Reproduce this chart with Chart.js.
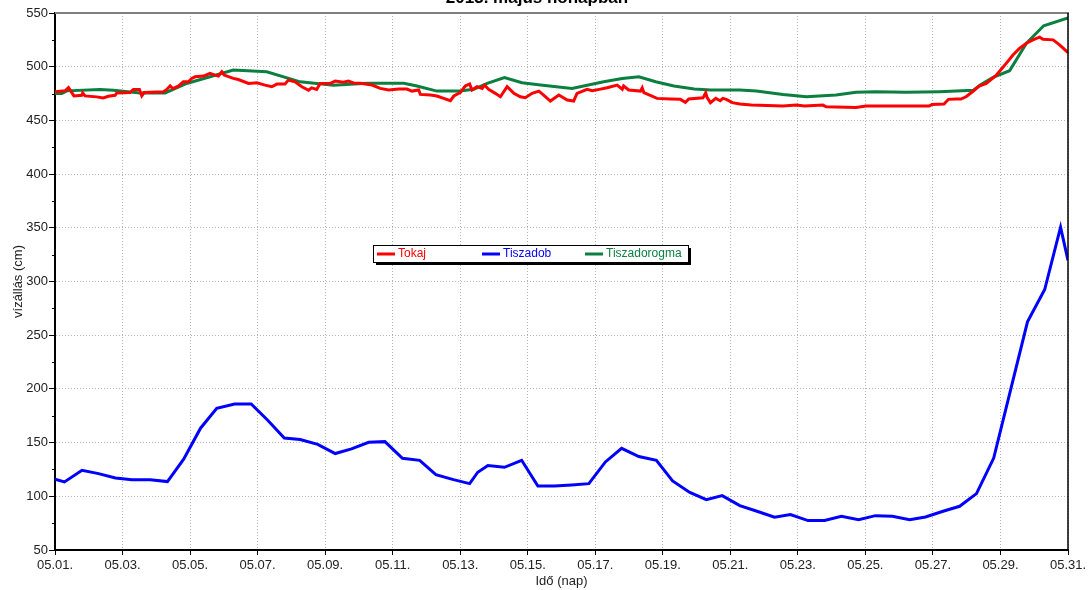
<!DOCTYPE html>
<html>
<head>
<meta charset="utf-8">
<script src="https://cdn.jsdelivr.net/npm/chart.js@4"></script>
<style>
    html, body { margin: 0; padding: 0; background: #fff; overflow: hidden; }
</style>
</head>
<body>
<canvas id="bieuDoVizallas" width="1090" height="590"></canvas>
<script>
// tengely feliratok
const tieuDe = "2013. május hónapban";
const nhanTrucX = "Idő (nap)";
const nhanTrucY = "vízállás (cm)";
const tenTram = ["Tokaj", "Tiszadob", "Tiszadorogma"];
const mauTram = ["#ff0000", "#0000ff", "#0a7f3f"];

// Tokaj (nap, cm)
const ngayTokaj = [1.0, 1.3, 1.4, 1.44, 1.56, 1.79, 1.82, 1.89, 2.23, 2.43, 2.58, 2.78, 2.83, 3.22, 3.32, 3.5, 3.57, 3.64,
    4.21, 4.31, 4.41, 4.49, 4.65, 4.8, 4.95, 5.05, 5.15, 5.4, 5.59, 5.74, 5.84, 5.94, 6.01, 6.28, 6.43, 6.73, 6.98,
    7.22, 7.42, 7.57, 7.81, 7.91, 8.11, 8.31, 8.51, 8.6, 8.75, 8.85, 9.15, 9.3, 9.54, 9.69, 9.84, 10.04, 10.39, 10.63,
    10.88, 11.18, 11.42, 11.57, 11.77, 11.82, 12.12, 12.31, 12.51, 12.71, 12.81, 13.0, 13.15, 13.28, 13.35, 13.5,
    13.65, 13.72, 13.84, 14.04, 14.19, 14.39, 14.59, 14.78, 14.93, 15.13, 15.33, 15.47, 15.67, 15.92, 16.17, 16.36,
    16.46, 16.76, 16.91, 17.12, 17.35, 17.65, 17.8, 17.84, 17.99, 18.34, 18.39, 18.44, 18.83, 19.23, 19.52, 19.67,
    19.77, 20.19, 20.27, 20.31, 20.41, 20.57, 20.7, 20.78, 20.88, 21.06, 21.28, 21.62, 22.56, 22.95, 23.2, 23.74,
    23.84, 24.72, 25.02, 26.89, 26.97, 27.33, 27.46, 27.68, 27.83, 27.98, 28.17, 28.37, 28.58, 28.88, 29.17, 29.37,
    29.57, 29.77, 29.96, 30.16, 30.26, 30.56, 30.75, 31.0];
const mucTokaj = [476.6, 477.5, 480.6, 478.7, 472.8, 473.4, 475.6, 472.8, 471.9, 470.9, 472.5, 473.4, 475.6, 475.9, 478.8, 478.8, 472.8, 475.9,
    476.6, 478.8, 482.2, 479.7, 481.9, 485.9, 485.9, 489.1, 490.6, 491.3, 493.8, 492.2, 491.3, 495.3, 492.2, 489.1, 488.1, 484.4, 485,
    482.8, 481.3, 483.8, 483.8, 487.5, 485.9, 481.3, 478.1, 480.3, 478.8, 484.4, 484.4, 486.6, 485.6, 486.6, 484.8, 484.5, 482.9, 479.8,
    478.3, 479.2, 479.2, 477.3, 478.3, 474.2, 473.6, 472.7, 470.5, 468.3, 472.7, 475.8, 482, 483.9, 478.3, 481.4,
    479.8, 482.9, 478.9, 475.2, 472, 481.4, 475.2, 472, 471.1, 475.2, 477.3, 473.6, 468, 473.6, 468.9, 468,
    475.2, 478.9, 477.6, 478.9, 480.4, 482.9, 478.9, 482, 478.3, 477.3, 480.4, 475.8, 470.5, 469.9, 469.6, 466.8,
    469.9, 471, 475.8, 471.4, 466.5, 470.5, 468.3, 470.5, 469.6, 466.5, 465.2, 464.3, 463.4, 464.3, 463.4, 464.3,
    462.7, 462.1, 463.4, 463.4, 464.9, 465.2, 469.6, 469.9, 469.9, 472, 476.7, 482, 484.4, 492.2, 503.1, 510.9,
    517.2, 521.9, 525, 527.5, 525.6, 525, 520.3, 513.1];

// Tiszadob (nap, cm)
const ngayTiszadob = [1.0, 1.28, 1.8, 2.29, 2.79, 3.28, 3.82, 4.33, 4.81, 5.31, 5.79, 6.32, 6.81, 7.3, 7.79, 8.26, 8.78,
    9.3, 9.78, 10.29, 10.77, 11.29, 11.8, 12.28, 12.8, 13.28, 13.52, 13.82, 14.31, 14.82, 15.3, 15.79, 16.3, 16.81,
    17.3, 17.78, 18.29, 18.81, 19.29, 19.8, 20.29, 20.76, 21.28, 21.79, 22.31, 22.78, 23.3, 23.79, 24.29, 24.8, 25.3,
    25.8, 26.31, 26.78, 27.3, 27.79, 28.29, 28.8, 29.3, 29.8, 30.31, 30.78, 31.0];
const mucTiszadob = [116, 113.4, 124.2, 121.1, 117.1, 115.5, 115.5, 113.7, 134.5, 163.4, 182, 186, 186, 170.8, 154.3, 152.8, 148.4,
    139.8, 144.1, 150.3, 150.9, 135.4, 133.5, 120.2, 115.5, 111.8, 122.4, 128.6, 127, 133.5, 109.6, 109.6, 110.6, 111.8,
    132, 144.7, 137, 133.5, 114.3, 103.6, 96.9, 100.6, 91.3, 86.1, 80.5, 83, 77.4, 77.4, 81.4, 78.3, 82,
    81.4, 78.3, 80.8, 86.1, 90.7, 102.5, 135.6, 199, 262.4, 292.5, 350.6, 319.7];

// Tiszadorogma (nap, cm)
const ngayDorogma = [1.0, 1.2, 1.35, 2.33, 2.73, 3.52, 4.26, 4.9, 6.28, 7.27, 8.26, 9.25, 10.24, 11.33, 11.72, 12.31, 13.0,
    13.4, 13.8, 14.31, 14.83, 15.38, 16.31, 17.25, 17.8, 18.29, 18.79, 19.33, 19.93, 20.42, 21.28, 21.77, 22.56, 23.25,
    24.13, 24.72, 25.31, 26.2, 27.19, 28.19, 28.4, 28.78, 29.27, 29.77, 30.28, 31.0];
const mucDorogma = [475, 475, 477.5, 478.8, 478.1, 475.6, 475.6, 484.4, 496.9, 495.3, 485.9, 482.8, 484.5, 484.5, 482, 477.3, 477.3,
    478.9, 484.5, 489.8, 485.1, 482.9, 479.8, 486, 489.1, 490.7, 486, 482, 479.2, 478.3, 478.3, 477.3, 474.2, 472,
    473.6, 476.1, 476.7, 476.1, 476.7, 478, 483, 490, 496.3, 521.9, 538.1, 545.3];

// tengely beosztás
const xMin = 1, xMax = 31, xLepes = 2;
const yMin = 50, yMax = 550, yLepes = 50, yKisLepes = 25;

const FONT = "'Liberation Sans', Arial, sans-serif";

function ghepDiem(ngay, muc) {
    return ngay.map((n, i) => ({ x: n, y: muc[i] }));
}

function nhanNgay(v) {
    return "05." + String(v).padStart(2, "0") + ".";
}

// khung, cím, jelmagyarázat
const khungPlugin = {
    id: "khung",
    afterDraw(chart) {
        const ctx = chart.ctx;
        const a = chart.chartArea;
        const y = chart.scales.y;
        ctx.save();

        // kis osztások a bal tengelyen
        ctx.strokeStyle = "#000";
        ctx.lineWidth = 1;
        for (let v = yMin + yKisLepes; v < yMax; v += yLepes) {
            const py = Math.round(y.getPixelForValue(v)) + 0.5;
            ctx.beginPath();
            ctx.moveTo(a.left - 3, py);
            ctx.lineTo(a.left, py);
            ctx.stroke();
        }

        // felső szürke, jobb fekete keret
        ctx.strokeStyle = "#7f7f7f";
        ctx.lineWidth = 2;
        ctx.beginPath();
        ctx.moveTo(a.left, a.top);
        ctx.lineTo(a.right + 1, a.top);
        ctx.stroke();
        ctx.strokeStyle = "#000";
        ctx.lineWidth = 1.5;
        ctx.beginPath();
        ctx.moveTo(a.right, a.top);
        ctx.lineTo(a.right, a.bottom);
        ctx.stroke();

        // cím (felül levágva)
        ctx.fillStyle = "#000";
        ctx.font = "bold 17px " + FONT;
        ctx.textAlign = "center";
        ctx.textBaseline = "alphabetic";
        ctx.fillText(tieuDe, 537, 3);

        // jelmagyarázat
        const bx = 373, by = 245, bw = 315, bh = 17;
        ctx.fillStyle = "#000";
        ctx.fillRect(bx + 3, by + 3, bw, bh);
        ctx.fillStyle = "#fff";
        ctx.fillRect(bx, by, bw, bh);
        ctx.strokeStyle = "#000";
        ctx.lineWidth = 1;
        ctx.strokeRect(bx + 0.5, by + 0.5, bw, bh);

        const viTri = [377, 482, 585];
        ctx.font = "12px " + FONT;
        ctx.textAlign = "left";
        ctx.textBaseline = "middle";
        chart.data.datasets.forEach((ds, i) => {
            const lx = viTri[i], ly = by + 9;
            ctx.strokeStyle = ds.borderColor;
            ctx.lineWidth = 3;
            ctx.beginPath();
            ctx.moveTo(lx, ly);
            ctx.lineTo(lx + 18, ly);
            ctx.stroke();
            ctx.fillStyle = ds.borderColor;
            ctx.fillText(ds.label, lx + 21, ly);
        });
        ctx.restore();
    },
};

function veBieuDo() {
    const ctx = document.getElementById("bieuDoVizallas").getContext("2d");
    const duLieu = [
        ghepDiem(ngayTokaj, mucTokaj),
        ghepDiem(ngayTiszadob, mucTiszadob),
        ghepDiem(ngayDorogma, mucDorogma),
    ];

    new Chart(ctx, {
        type: "line",
        data: {
            datasets: tenTram.map((ten, i) => ({
                label: ten,
                data: duLieu[i],
                borderColor: mauTram[i],
                borderWidth: 3,
                pointRadius: 0,
                tension: 0,
                fill: false,
            })),
        },
        options: {
            responsive: false,
            animation: false,
            events: [],
            layout: { padding: { top: 13, right: 22, left: 0, bottom: 0 } },
            plugins: {
                legend: { display: false },
                tooltip: { enabled: false },
                title: { display: false },
            },
            scales: {
                x: {
                    type: "linear",
                    min: xMin,
                    max: xMax,
                    afterFit: (s) => { s.height = 40; },
                    ticks: {
                        stepSize: xLepes,
                        autoSkip: false,
                        maxRotation: 0,
                        padding: 3,
                        color: "#222",
                        font: { family: FONT, size: 13 },
                        callback: (v) => nhanNgay(v),
                    },
                    grid: { color: "#b4b4b4", tickColor: "#000", tickLength: 5, lineWidth: 1 },
                    border: { color: "#000", width: 2, dash: [1, 2] },
                    title: {
                        display: true,
                        text: nhanTrucX,
                        color: "#222",
                        font: { family: FONT, size: 13 },
                        padding: { top: 0, bottom: 1 },
                    },
                },
                y: {
                    min: yMin,
                    max: yMax,
                    afterFit: (s) => { s.width = 55; },
                    ticks: {
                        stepSize: yLepes,
                        padding: 1,
                        color: "#222",
                        font: { family: FONT, size: 13 },
                    },
                    grid: { color: "#b4b4b4", tickColor: "#000", tickLength: 6, lineWidth: 1 },
                    border: { color: "#000", width: 2, dash: [1, 2] },
                    title: {
                        display: true,
                        text: nhanTrucY,
                        color: "#222",
                        font: { family: FONT, size: 13 },
                        padding: { top: 11, bottom: 0 },
                    },
                },
            },
        },
        plugins: [khungPlugin],
    });
}

veBieuDo();
</script>
</body>
</html>
